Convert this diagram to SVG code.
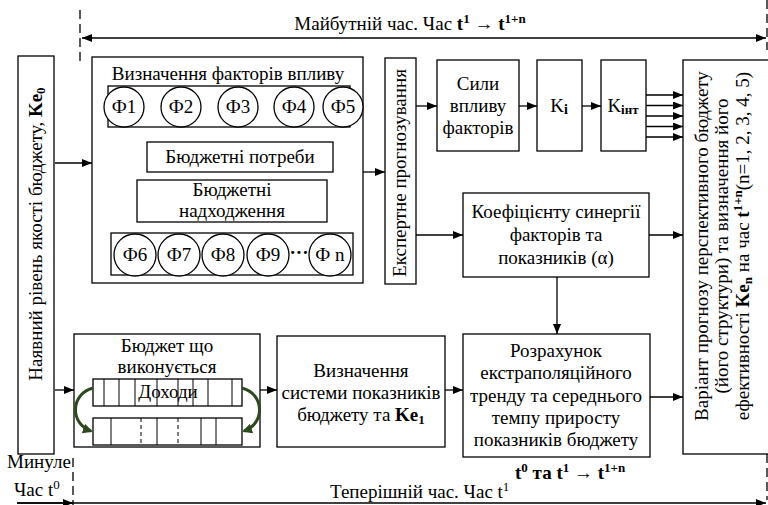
<svg xmlns="http://www.w3.org/2000/svg" width="768" height="505" viewBox="0 0 768 505">
<defs>
<marker id="a" markerWidth="10" markerHeight="8" refX="10" refY="4" orient="auto-start-reverse" markerUnits="userSpaceOnUse"><path d="M0,0L10,4L0,8z" fill="#000" stroke="none"/></marker>
<marker id="g" markerWidth="10" markerHeight="10" refX="8" refY="5" orient="auto" markerUnits="userSpaceOnUse"><path d="M0,0L10,5L0,10z" fill="#2c4a1e" stroke="none"/></marker>
</defs>
<rect width="768" height="505" fill="#fff"/>

<g id="timeline-marks" stroke="#000" stroke-width="1.3" stroke-dasharray="9,5" fill="none">
<line x1="80" y1="10" x2="80" y2="62"/>
<line x1="767" y1="0" x2="767" y2="50"/>
<line x1="767" y1="454" x2="767" y2="500"/>
<line x1="73" y1="458" x2="73" y2="505"/>
</g>
<g id="timeline-labels">
<text font-family="Liberation Serif" font-size="19" text-anchor="middle" x="410" y="30">Майбутній час. Час <tspan font-weight="bold">t</tspan><tspan font-weight="bold" font-size="13" dy="-7">1</tspan><tspan dy="7"> → </tspan><tspan font-weight="bold">t</tspan><tspan font-weight="bold" font-size="13" dy="-7">1+n</tspan></text>
<text font-family="Liberation Serif" font-size="19" x="7" y="468">Минуле</text>
<text font-family="Liberation Serif" font-size="19" x="14" y="496">Час t<tspan font-size="13" dy="-7">0</tspan></text>
<text font-family="Liberation Serif" font-size="19" x="330" y="498">Теперішній час. Час t<tspan font-size="13" dy="-7">1</tspan></text>
<text font-family="Liberation Serif" font-size="19" font-weight="bold" x="515" y="479">t<tspan font-size="13" dy="-7">0</tspan><tspan dy="7"> та t</tspan><tspan font-size="13" dy="-7">1</tspan><tspan dy="7" font-weight="normal"> → </tspan><tspan>t</tspan><tspan font-size="13" dy="-7">1+n</tspan></text>
</g>

<g id="connectors" stroke="#000" stroke-width="1.3" fill="none">
<g id="plain-links">
<polyline points="108,107 98,107 98,252 111,252"/>
<polyline points="350,107 358,107 358,253 353,253"/>
</g>
<g id="arrows" marker-end="url(#a)">
<line x1="82" y1="38" x2="766" y2="38" marker-start="url(#a)"/>
<line x1="17" y1="503" x2="766" y2="503"/>
<line x1="17" y1="503" x2="73" y2="503"/>
<line x1="55" y1="163" x2="92" y2="163"/>
<line x1="55" y1="390" x2="74" y2="390"/>
<line x1="138" y1="127" x2="138" y2="142"/>
<line x1="180" y1="127" x2="180" y2="142"/>
<line x1="238" y1="127" x2="238" y2="142"/>
<line x1="285" y1="127" x2="285" y2="142"/>
<line x1="330" y1="127" x2="330" y2="142"/>
<line x1="134" y1="233" x2="134" y2="222"/>
<line x1="179" y1="233" x2="179" y2="222"/>
<line x1="223" y1="233" x2="223" y2="222"/>
<line x1="268" y1="233" x2="268" y2="222"/>
<line x1="325" y1="233" x2="325" y2="222"/>
<line x1="363" y1="172" x2="385" y2="172"/>
<line x1="416" y1="106" x2="437" y2="106"/>
<line x1="519" y1="106" x2="537" y2="106"/>
<line x1="582" y1="106" x2="601" y2="106"/>
<line x1="646" y1="95" x2="683" y2="95"/>
<line x1="646" y1="105.5" x2="683" y2="105.5"/>
<line x1="646" y1="116" x2="683" y2="116"/>
<line x1="646" y1="126.5" x2="683" y2="126.5"/>
<line x1="646" y1="137" x2="683" y2="137"/>
<line x1="416" y1="235" x2="463" y2="235"/>
<line x1="649" y1="235" x2="683" y2="235"/>
<line x1="557" y1="277" x2="557" y2="334"/>
<line x1="650" y1="397" x2="683" y2="397"/>
<line x1="260" y1="390" x2="277" y2="390"/>
<line x1="445" y1="390" x2="463" y2="390"/>
</g>
</g>

<g id="ke0">
<rect x="18" y="56" width="36" height="398" fill="#fff" stroke="#000" stroke-width="1.3"/>
<text font-family="Liberation Serif" font-size="19" text-anchor="middle" transform="translate(42,234) rotate(-90)">Наявний рівень якості бюджету, <tspan font-weight="bold">Ke</tspan><tspan font-weight="bold" font-size="13" dy="3">0</tspan></text>
</g>

<g id="factors">
<g fill="#fff" stroke="#000" stroke-width="1.3">
<rect x="92" y="57" width="271" height="226"/>
<rect x="108" y="86" width="242" height="41"/>
<rect x="111" y="233" width="242" height="42"/>
</g>
<text font-family="Liberation Serif" font-size="19" text-anchor="middle" x="228" y="80">Визначення факторів впливу</text>
<g id="f1"><circle cx="124" cy="107" r="20" fill="#fff" stroke="#000" stroke-width="1.3"/><text font-family="Liberation Serif" font-size="19" text-anchor="middle" x="124" y="113">Ф1</text></g>
<g id="f2"><circle cx="181" cy="107" r="20" fill="#fff" stroke="#000" stroke-width="1.3"/><text font-family="Liberation Serif" font-size="19" text-anchor="middle" x="181" y="113">Ф2</text></g>
<g id="f3"><circle cx="238" cy="107" r="20" fill="#fff" stroke="#000" stroke-width="1.3"/><text font-family="Liberation Serif" font-size="19" text-anchor="middle" x="238" y="113">Ф3</text></g>
<g id="f4"><circle cx="294" cy="107" r="20" fill="#fff" stroke="#000" stroke-width="1.3"/><text font-family="Liberation Serif" font-size="19" text-anchor="middle" x="294" y="113">Ф4</text></g>
<g id="f5"><circle cx="343" cy="107" r="20" fill="#fff" stroke="#000" stroke-width="1.3"/><text font-family="Liberation Serif" font-size="19" text-anchor="middle" x="343" y="113">Ф5</text></g>
<g id="needs"><rect x="147" y="142" width="186" height="30" fill="#fff" stroke="#000" stroke-width="1.3"/><text font-family="Liberation Serif" font-size="19" text-anchor="middle" x="240" y="163">Бюджетні потреби</text></g>
<g id="income"><rect x="137" y="180" width="190" height="42" fill="#fff" stroke="#000" stroke-width="1.3"/><text font-family="Liberation Serif" font-size="19" text-anchor="middle" x="232" y="196">Бюджетні</text><text font-family="Liberation Serif" font-size="19" text-anchor="middle" x="232" y="217">надходження</text></g>
<g id="f6"><circle cx="135" cy="255" r="21" fill="#fff" stroke="#000" stroke-width="1.3"/><text font-family="Liberation Serif" font-size="19" text-anchor="middle" x="135" y="261">Ф6</text></g>
<g id="f7"><circle cx="179" cy="255" r="21" fill="#fff" stroke="#000" stroke-width="1.3"/><text font-family="Liberation Serif" font-size="19" text-anchor="middle" x="179" y="261">Ф7</text></g>
<g id="f8"><circle cx="223" cy="255" r="21" fill="#fff" stroke="#000" stroke-width="1.3"/><text font-family="Liberation Serif" font-size="19" text-anchor="middle" x="223" y="261">Ф8</text></g>
<g id="f9"><circle cx="268" cy="255" r="21" fill="#fff" stroke="#000" stroke-width="1.3"/><text font-family="Liberation Serif" font-size="19" text-anchor="middle" x="268" y="261">Ф9</text></g>
<text font-family="Liberation Serif" font-size="19" font-weight="bold" text-anchor="middle" x="299" y="259">···</text>
<g id="fn"><circle cx="330" cy="255" r="21" fill="#fff" stroke="#000" stroke-width="1.3"/><text font-family="Liberation Serif" font-size="19" text-anchor="middle" x="330" y="261">Ф n</text></g>
</g>

<g id="expert"><rect x="385" y="58" width="31" height="226" fill="#fff" stroke="#000" stroke-width="1.3"/><text font-family="Liberation Serif" font-size="19" text-anchor="middle" transform="translate(406,173) rotate(-90)">Експертне прогнозування</text></g>

<g id="forces"><rect x="437" y="60" width="82" height="91" fill="#fff" stroke="#000" stroke-width="1.3"/><text font-family="Liberation Serif" font-size="19" text-anchor="middle" x="478" y="90">Сили</text><text font-family="Liberation Serif" font-size="19" text-anchor="middle" x="478" y="112">впливу</text><text font-family="Liberation Serif" font-size="19" text-anchor="middle" x="478" y="134">факторів</text></g>
<g id="ki"><rect x="537" y="60" width="45" height="91" fill="#fff" stroke="#000" stroke-width="1.3"/><text font-family="Liberation Serif" font-size="19" text-anchor="middle" x="559" y="112">K<tspan font-weight="bold" font-size="14" dy="2">i</tspan></text></g>
<g id="kint"><rect x="601" y="60" width="45" height="91" fill="#fff" stroke="#000" stroke-width="1.3"/><text font-family="Liberation Serif" font-size="19" text-anchor="middle" x="623" y="112">K<tspan font-weight="bold" font-size="13" dy="2">інт</tspan></text></g>

<g id="synergy"><rect x="463" y="193" width="186" height="84" fill="#fff" stroke="#000" stroke-width="1.3"/><text font-family="Liberation Serif" font-size="19" text-anchor="middle" x="556" y="218">Коефіцієнту синергії</text><text font-family="Liberation Serif" font-size="19" text-anchor="middle" x="556" y="241">факторів та</text><text font-family="Liberation Serif" font-size="19" text-anchor="middle" x="556" y="264">показників (α)</text></g>

<g id="result"><rect x="683" y="60" width="100" height="394" fill="#fff" stroke="#000" stroke-width="1.3"/>
<text font-family="Liberation Serif" font-size="19" text-anchor="middle" transform="translate(708,246) rotate(-90)">Варіант прогнозу перспективного бюджету</text>
<text font-family="Liberation Serif" font-size="19" text-anchor="middle" transform="translate(728,246) rotate(-90)">(його структури) та визначення його</text>
<text font-family="Liberation Serif" font-size="19" text-anchor="middle" transform="translate(749,246) rotate(-90)">ефективності <tspan font-weight="bold">Ke</tspan><tspan font-weight="bold" font-size="13" dy="3">n</tspan><tspan dy="-3"> на час </tspan><tspan font-weight="bold">t</tspan><tspan font-weight="bold" font-size="13" dy="-7">1+n</tspan><tspan dy="7">(n=1, 2, 3, 4, 5)</tspan></text>
</g>

<g id="budget">
<rect x="74" y="334" width="186" height="113" fill="#fff" stroke="#000" stroke-width="1.3"/>
<text font-family="Liberation Serif" font-size="19" text-anchor="middle" x="167" y="352">Бюджет що</text>
<text font-family="Liberation Serif" font-size="19" text-anchor="middle" x="167" y="373">виконується</text>
<g fill="#fff" stroke="#000" stroke-width="1.3">
<rect x="93" y="379" width="149" height="27"/>
<rect x="93" y="418" width="149" height="27"/>
</g>
<g stroke="#000" stroke-width="1" fill="none">
<line x1="104" y1="379" x2="104" y2="406"/><line x1="119" y1="379" x2="119" y2="406"/><line x1="135" y1="379" x2="135" y2="406"/><line x1="157" y1="379" x2="157" y2="406"/><line x1="178" y1="379" x2="178" y2="406"/><line x1="193" y1="379" x2="193" y2="406"/><line x1="208" y1="379" x2="208" y2="406"/><line x1="232" y1="379" x2="232" y2="406"/>
<line x1="111" y1="418" x2="111" y2="445"/><line x1="157" y1="418" x2="157" y2="445"/><line x1="201" y1="418" x2="201" y2="445"/><line x1="216" y1="418" x2="216" y2="445"/>
<line x1="141" y1="418" x2="141" y2="445" stroke-dasharray="4,3"/><line x1="178" y1="418" x2="178" y2="445" stroke-dasharray="4,3"/>
</g>
<text font-family="Liberation Serif" font-size="19" text-anchor="middle" x="168" y="398">Доходи</text>
<g stroke="#2c4a1e" stroke-width="3" fill="none" marker-end="url(#g)">
<path d="M93,388 C70,394 70,424 91,431"/>
<path d="M242,388 C265,394 265,424 244,431"/>
</g>
</g>

<g id="system"><rect x="277" y="336" width="168" height="111" fill="#fff" stroke="#000" stroke-width="1.3"/><text font-family="Liberation Serif" font-size="19" text-anchor="middle" x="361" y="377">Визначення</text><text font-family="Liberation Serif" font-size="19" text-anchor="middle" x="361" y="399">системи показників</text><text font-family="Liberation Serif" font-size="19" text-anchor="middle" x="361" y="421">бюджету та <tspan font-weight="bold">Ke</tspan><tspan font-weight="bold" font-size="13" dy="3">1</tspan></text></g>

<g id="trend"><rect x="463" y="334" width="187" height="123" fill="#fff" stroke="#000" stroke-width="1.3"/><text font-family="Liberation Serif" font-size="19" text-anchor="middle" x="556" y="357">Розрахунок</text><text font-family="Liberation Serif" font-size="19" text-anchor="middle" x="556" y="379">екстраполяційного</text><text font-family="Liberation Serif" font-size="19" text-anchor="middle" x="556" y="402">тренду та середнього</text><text font-family="Liberation Serif" font-size="19" text-anchor="middle" x="556" y="424">темпу приросту</text><text font-family="Liberation Serif" font-size="19" text-anchor="middle" x="556" y="446">показників бюджету</text></g>
</svg>
